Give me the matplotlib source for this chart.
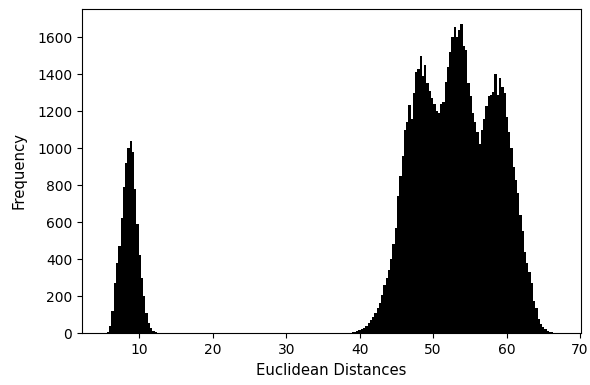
import matplotlib
matplotlib.use("Agg")
import matplotlib.pyplot as plt
import numpy as np

# histogram of pairwise distances, 200 bins between min and max distance
DIST_MIN = 5.27
DIST_MAX = 67.0
N_BINS = 200

# counts for the close pairs (bins 0-23)
near_counts = [1, 6, 40, 120, 270, 380, 470, 620, 790, 920,
               1000, 1040, 980, 780, 590, 420, 300, 200, 110, 55,
               25, 10, 4, 1]
# empty bins between the two groups (bins 24-104)
gap_counts = [0] * 81
# counts for the far pairs (bins 105-199)
far_rise = [0, 1, 1, 2, 3, 6, 9, 14, 20, 28,
            38, 52, 70, 88, 110, 135, 165, 205, 260, 300,
            340, 400, 480, 570, 740, 850, 960, 1100]
far_peaks = [1140, 1235, 1160, 1300, 1410, 1430, 1500, 1390, 1450, 1350,
             1310, 1270, 1240, 1200, 1190, 1240, 1250, 1360, 1440, 1520,
             1600, 1655, 1600, 1640, 1670, 1550, 1530]
far_tail = [1350, 1280, 1190, 1140, 1090, 1020, 1100, 1160, 1230, 1280,
            1290, 1305, 1400, 1290, 1380, 1330, 1300, 1170, 1090, 1000,
            900, 830, 760, 640, 550, 440, 380, 330, 270, 175,
            135, 75, 50, 35, 20, 10, 6, 3, 1, 1]

counts = near_counts + gap_counts + far_rise + far_peaks + far_tail
edges = np.linspace(DIST_MIN, DIST_MAX, N_BINS + 1)

plt.figure(figsize=(5.9, 3.85), dpi=100)
plt.subplots_adjust(left=0.139, right=0.984, top=0.977, bottom=0.135)
plt.hist(edges[:-1], bins=edges, weights=counts, color="black")
plt.xlabel("Euclidean Distances", fontsize=10.7, labelpad=4.5)
plt.ylabel("Frequency", fontsize=10.7, labelpad=7.5)
plt.savefig("out.png")
